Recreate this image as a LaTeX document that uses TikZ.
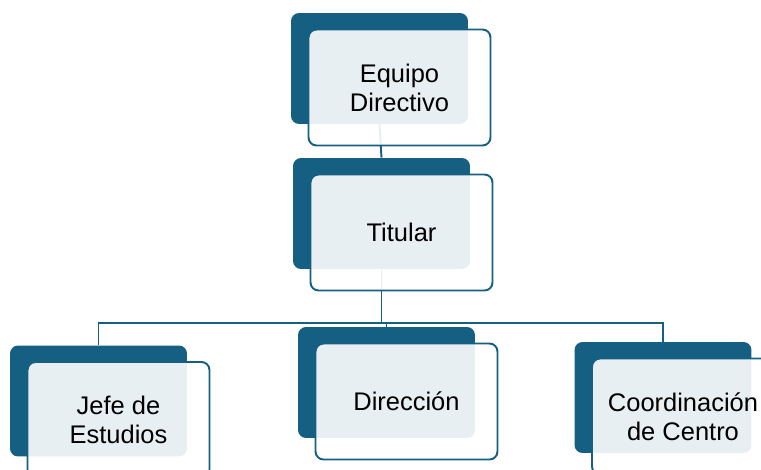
\documentclass[tikz,border=0pt]{standalone}
\usepackage{fontspec}
\setmainfont{Liberation Sans}
\usepackage{tikz}
\usetikzlibrary{positioning,calc}
\definecolor{orgblue}{HTML}{156082}

\begin{document}
\begin{tikzpicture}[x=0.02cm, y=-0.02cm]
\tikzstyle{back}=[draw=none, fill=orgblue, rounded corners=0.16cm, minimum width=3.54cm, minimum height=2.22cm, inner sep=0pt]
\tikzstyle{front}=[draw=orgblue, line width=1.1pt, fill=white, fill opacity=0.9, text opacity=1, rounded corners=0.16cm, minimum width=3.64cm, minimum height=2.32cm, inner sep=0pt, align=center, font=\fontsize{14.5}{16.5}\selectfont]
\tikzstyle{link}=[draw=orgblue, line width=1.1pt]
\clip (0,0) rectangle (761,470);
\useasboundingbox (0,0) rectangle (761,470);

% back shapes
\node[back] (equipo)  at (379.5,68.5) {};
\node[back] (titular) at (381.5,213.5) {};
\node[back] (jefe)    at (98.5,401) {};
\node[back] (dir)     at (386.5,382.5) {};
\node[back] (coord)   at (663,397.5) {};

% connectors
\coordinate[below=1.08cm of titular.south] (bus);
\draw[link] (equipo.south) -- (titular.north);
\draw[link] (titular.south) -- (bus) -| (jefe.north);
\draw[link] (titular.south) -- (bus) -| (dir.north);
\draw[link] (titular.south) -- (bus) -| (coord.north);

% front boxes
\node[front] (equipoT)  at ($(equipo)+(20,19)$)  {Equipo\\Directivo};
\node[front] (titularT) at ($(titular)+(20,19)$) {Titular};
\node[front] (jefeT)    at ($(jefe)+(20,19)$)    {Jefe de\\Estudios};
\node[front] (dirT)     at ($(dir)+(20,19)$)     {Dirección};
\node[front] (coordT)   at ($(coord)+(20,19)$)   {Coordinación\\de Centro};
\end{tikzpicture}
\end{document}
